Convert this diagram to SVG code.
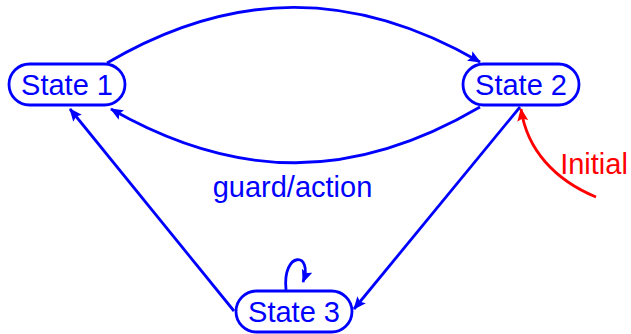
<svg xmlns="http://www.w3.org/2000/svg" width="631" height="334" viewBox="0 0 631 334">
<style>
.node rect{fill:#fff;stroke:#0000ff;stroke-width:2.8}
.lbl{font-family:"Liberation Sans",Arial,sans-serif;font-size:29px;fill:#0000ff;text-anchor:middle}
.edge{fill:none;stroke:#0000ff;stroke-width:2.8}
.init{fill:none;stroke:#ff0000;stroke-width:2.8}
</style>
<defs>
<marker id="ab" viewBox="0 0 13 11" refX="12" refY="5.5" markerWidth="13" markerHeight="11" markerUnits="userSpaceOnUse" orient="auto">
<path d="M0,0 L13,5.5 L0,11 L2.5,5.5 z" fill="#0000ff"/>
</marker>
<marker id="ar" viewBox="0 0 13 11" refX="12" refY="5.5" markerWidth="13" markerHeight="11" markerUnits="userSpaceOnUse" orient="auto">
<path d="M0,0 L13,5.5 L0,11 L2.5,5.5 z" fill="#ff0000"/>
</marker>
</defs>
<g id="connectors">
<path class="edge" d="M107,63 C233,-11 354,-11 480,62" marker-end="url(#ab)"/>
<path class="edge" d="M480,107 C354,181 237,181 111,109" marker-end="url(#ab)"/>
<path class="edge" d="M520,107 L354,309" marker-end="url(#ab)"/>
<path class="edge" d="M234,311 L70,109" marker-end="url(#ab)"/>
<path class="edge" d="M286,290 C282,250 314,252 303,282" marker-end="url(#ab)"/>
<path class="init" d="M596,197 C555,180 527,150 521,109" marker-end="url(#ar)"/>
<text class="lbl" x="292.5" y="197">guard/action</text>
<text class="lbl" x="594" y="174" style="fill:#ff0000">Initial</text>
</g>
<g id="state1" class="node"><rect x="9" y="64" width="116" height="41" rx="20.5"/><text class="lbl" x="67" y="95">State 1</text></g>
<g id="state2" class="node"><rect x="463" y="64" width="116" height="41" rx="20.5"/><text class="lbl" x="521" y="95">State 2</text></g>
<g id="state3" class="node"><rect x="236" y="291" width="116" height="41" rx="20.5"/><text class="lbl" x="294" y="322">State 3</text></g>
</svg>
